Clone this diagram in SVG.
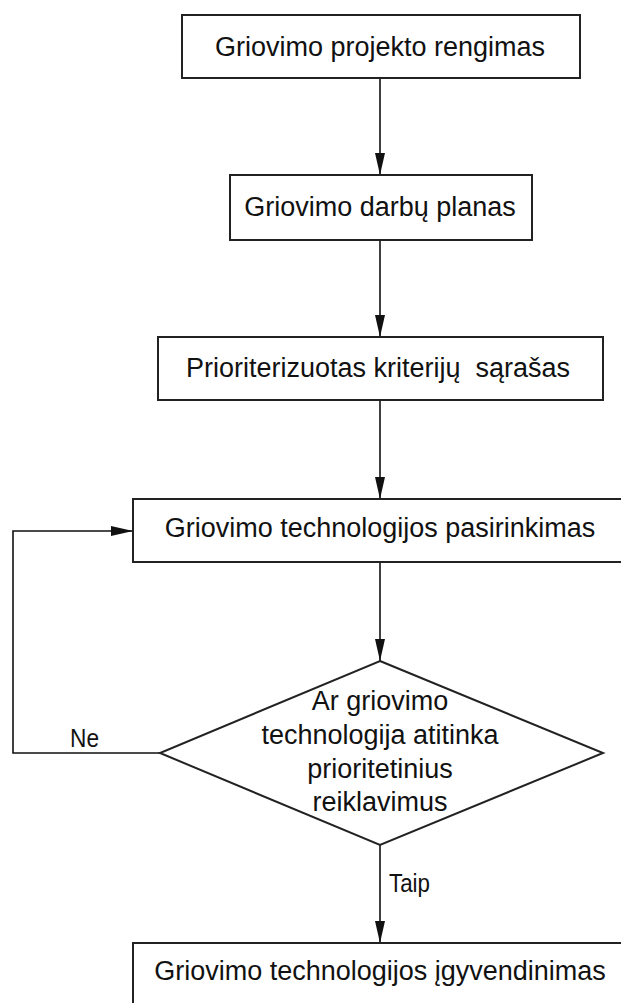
<svg xmlns="http://www.w3.org/2000/svg" width="621" height="1003" viewBox="0 0 621 1003">
<style>
.box{fill:#fff;stroke:#222;stroke-width:2}
.t{font-family:"Liberation Sans",Arial,sans-serif;font-size:27px;fill:#111;text-anchor:middle}
.lbl{font-family:"Liberation Sans",Arial,sans-serif;font-size:26px;fill:#111}
.c{fill:none;stroke:#111;stroke-width:1.6}
</style>
<defs>
<marker id="arr" markerUnits="userSpaceOnUse" markerWidth="24" markerHeight="12" refX="22" refY="5" orient="auto">
<path d="M0,0 L22,5 L0,10 Z" fill="#111"/>
</marker>
</defs>
<rect width="621" height="1003" fill="#fff"/>
<g id="connectors">
<line class="c" x1="380" y1="79" x2="380" y2="175" marker-end="url(#arr)"/>
<line class="c" x1="380" y1="241" x2="380" y2="337" marker-end="url(#arr)"/>
<line class="c" x1="380" y1="401" x2="380" y2="499" marker-end="url(#arr)"/>
<line class="c" x1="380" y1="563" x2="380" y2="661" marker-end="url(#arr)"/>
<line class="c" x1="380" y1="845" x2="380" y2="943" marker-end="url(#arr)"/>
<polyline class="c" points="160,753 13,753 13,531 133,531" marker-end="url(#arr)"/>
<text class="lbl" x="70" y="747" textLength="29" lengthAdjust="spacingAndGlyphs">Ne</text>
<text class="lbl" x="389" y="892" textLength="41" lengthAdjust="spacingAndGlyphs">Taip</text>
</g>
<g id="n1">
<rect class="box" x="182" y="15" width="398" height="63"/>
<text class="t" x="380" y="56">Griovimo projekto rengimas</text>
</g>
<g id="n2">
<rect class="box" x="230" y="175" width="302" height="65"/>
<text class="t" x="380" y="216">Griovimo darbų planas</text>
</g>
<g id="n3">
<rect class="box" x="158" y="337" width="445" height="63"/>
<text class="t" x="378" y="377" xml:space="preserve">Prioriterizuotas kriterijų  sąrašas</text>
</g>
<g id="n4">
<rect class="box" x="133" y="499" width="492" height="63"/>
<text class="t" x="380" y="537">Griovimo technologijos pasirinkimas</text>
</g>
<g id="n5">
<polygon class="box" points="380,661 603,753 380,845 160,753"/>
<text class="t" x="380" y="710">Ar griovimo</text>
<text class="t" x="380" y="744">technologija atitinka</text>
<text class="t" x="380" y="778">prioritetinius</text>
<text class="t" x="380" y="811">reiklavimus</text>
</g>
<g id="n6">
<rect class="box" x="133" y="943" width="492" height="75"/>
<text class="t" x="380" y="980">Griovimo technologijos įgyvendinimas</text>
</g>
</svg>
